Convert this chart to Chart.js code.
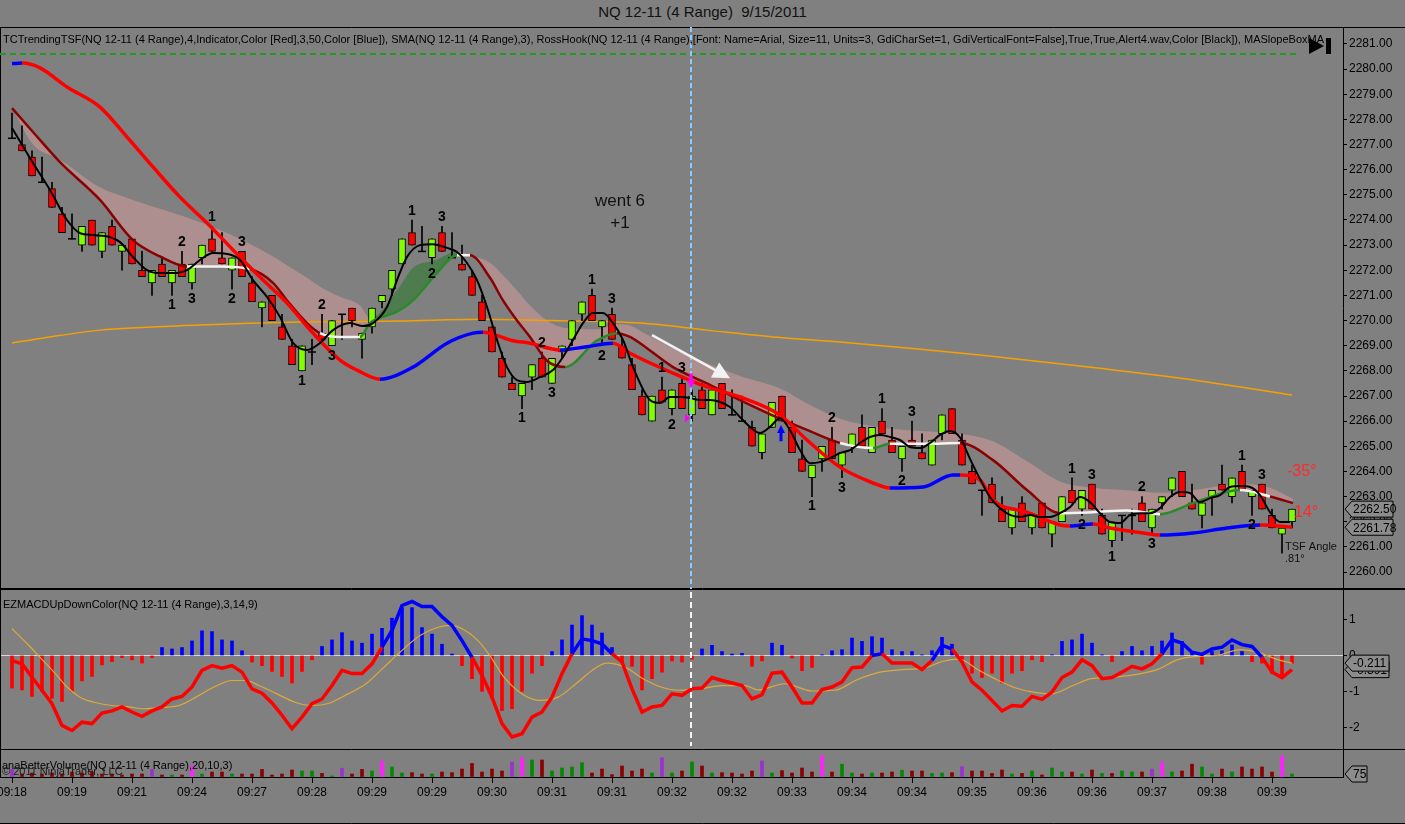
<!DOCTYPE html>
<html>
<head>
<meta charset="utf-8">
<title>NQ 12-11 (4 Range) 9/15/2011</title>
<script src="https://cdn.jsdelivr.net/npm/chart.js@4.4.1/dist/chart.umd.min.js"></script>
<style>
  html, body { margin: 0; padding: 0; background: #808080; overflow: hidden; }
  #wrap { position: relative; width: 1405px; height: 824px; }
  #title { position: absolute; left: 0; top: 3px; width: 1405px; text-align: center;
           font: 15px "Liberation Sans", Arial, sans-serif; color: #111; }
  canvas { position: absolute; left: 0; }
</style>
</head>
<body>
<div id="wrap">
  <div id="title">NQ 12-11 (4 Range)&nbsp; 9/15/2011</div>
  <canvas id="priceChart" width="1405" height="562" style="top:27px"></canvas>
  <canvas id="macdChart" width="1405" height="160" style="top:589px"></canvas>
  <canvas id="volChart" width="1405" height="75" style="top:749px"></canvas>
</div>
<script>
const FONT = '"Liberation Sans", Arial, sans-serif';
Chart.defaults.font.family = FONT;

// ---------- data ----------
const timeLabels = ['09:18', '09:19', '09:21', '09:24', '09:27', '09:28', '09:29', '09:29', '09:30', '09:31', '09:31',
  '09:32', '09:32', '09:33', '09:34', '09:34', '09:35', '09:36', '09:36', '09:37', '09:38', '09:39'];
const timeTickBars = [0, 6, 12, 18, 24, 30, 36, 42, 48, 54, 60, 66, 72, 78, 84, 90, 96, 102, 108, 114, 120, 126];

const opens = [
  2277.25, 2277.0, 2276.5, 2275.5, 2275.25, 2274.25, 2273.25, 2273.0, 2274.0, 2272.75,
  2273.75, 2272.75, 2273.25, 2272.0, 2271.5, 2272.25, 2271.5, 2272.25, 2271.5, 2272.5,
  2273.25, 2272.5, 2272.0, 2272.75, 2271.5, 2270.5, 2271.0, 2269.75, 2269.0, 2268.0,
  2268.75, 2269.5, 2269.0, 2270.25, 2270.5, 2269.25, 2269.75, 2270.75, 2271.25, 2272.25,
  2273.5, 2272.75, 2272.5, 2273.5, 2272.5, 2272.25, 2271.75, 2270.75, 2269.75, 2268.5,
  2267.5, 2267.0, 2267.75, 2268.5, 2267.5, 2268.75, 2269.25, 2270.25, 2271.0, 2269.75,
  2270.25, 2269.0, 2268.25, 2267.0, 2266.0, 2267.25, 2266.5, 2267.5, 2266.25, 2267.25,
  2266.25, 2267.5, 2266.25, 2266.0, 2265.75, 2264.75, 2265.75, 2267.0, 2265.75, 2264.5,
  2263.75, 2264.5, 2265.25, 2264.25, 2265.0, 2265.75, 2264.75, 2266.0, 2265.25, 2264.5,
  2265.25, 2264.75, 2264.25, 2265.5, 2266.5, 2265.25, 2264.0, 2263.25, 2263.5, 2262.5,
  2261.75, 2262.75, 2261.75, 2262.75, 2261.5, 2262.0, 2263.25, 2262.5, 2263.5, 2262.25,
  2261.25, 2262.25, 2262.25, 2262.75, 2261.75, 2262.75, 2263.25, 2264.0, 2262.75, 2262.25,
  2263.0, 2263.5, 2263.0, 2264.0, 2263.0, 2263.5, 2262.25, 2261.5, 2262.0];
const highs = [
  2278.25, 2277.75, 2276.75, 2276.5, 2275.5, 2274.5, 2274.25, 2273.75, 2274.0, 2273.5,
  2274.0, 2273.0, 2273.25, 2272.75, 2272.0, 2272.5, 2272.0, 2272.75, 2272.25, 2273.0,
  2273.75, 2273.5, 2272.5, 2272.75, 2271.75, 2270.75, 2271.0, 2270.25, 2269.25, 2269.0,
  2269.25, 2270.25, 2270.0, 2270.25, 2270.5, 2269.5, 2270.5, 2271.0, 2272.0, 2273.25,
  2274.0, 2273.75, 2273.25, 2273.75, 2273.5, 2273.0, 2272.0, 2271.0, 2269.75, 2268.75,
  2267.75, 2267.5, 2268.25, 2268.75, 2268.5, 2269.0, 2270.0, 2270.75, 2271.25, 2270.0,
  2270.5, 2269.25, 2268.5, 2267.25, 2267.0, 2267.75, 2267.25, 2267.75, 2267.25, 2267.5,
  2267.25, 2267.5, 2267.25, 2267.0, 2266.0, 2265.5, 2266.75, 2267.0, 2266.0, 2265.25,
  2264.25, 2265.0, 2265.75, 2264.75, 2265.5, 2266.25, 2265.75, 2266.5, 2265.75, 2265.0,
  2266.0, 2265.5, 2265.25, 2266.25, 2266.5, 2265.5, 2264.25, 2263.25, 2263.75, 2263.0,
  2262.5, 2263.0, 2262.25, 2262.75, 2262.0, 2263.0, 2263.75, 2263.25, 2263.5, 2262.5,
  2262.0, 2262.25, 2262.5, 2263.0, 2262.5, 2263.0, 2263.75, 2264.0, 2263.5, 2262.75,
  2263.25, 2264.25, 2263.75, 2264.25, 2263.25, 2263.5, 2262.5, 2261.75, 2262.5];
const lows = [
  2277.25, 2276.75, 2275.75, 2275.5, 2274.5, 2273.5, 2273.25, 2272.75, 2273.0, 2272.5,
  2273.0, 2272.0, 2272.25, 2271.75, 2271.0, 2271.75, 2271.0, 2271.75, 2271.25, 2272.25,
  2272.75, 2272.25, 2271.25, 2271.75, 2270.75, 2269.75, 2270.0, 2269.25, 2268.25, 2268.0,
  2268.25, 2269.25, 2269.0, 2269.25, 2269.75, 2268.5, 2269.5, 2270.5, 2271.0, 2272.25,
  2273.0, 2272.75, 2272.25, 2272.75, 2272.5, 2272.0, 2271.0, 2270.0, 2268.75, 2267.75,
  2267.25, 2266.5, 2267.25, 2267.75, 2267.5, 2268.5, 2269.0, 2270.0, 2270.0, 2269.0,
  2269.25, 2268.5, 2267.25, 2266.25, 2266.0, 2266.75, 2266.25, 2266.5, 2266.0, 2266.5,
  2266.25, 2266.5, 2266.25, 2266.0, 2265.0, 2264.5, 2265.75, 2266.0, 2264.75, 2264.0,
  2263.0, 2264.0, 2264.5, 2263.75, 2264.75, 2265.0, 2264.75, 2265.5, 2264.75, 2264.0,
  2265.0, 2264.5, 2264.25, 2265.25, 2265.5, 2264.25, 2263.5, 2262.25, 2262.75, 2262.0,
  2261.5, 2262.0, 2261.5, 2261.75, 2261.0, 2262.0, 2262.75, 2262.25, 2262.5, 2261.5,
  2261.0, 2261.25, 2261.5, 2262.0, 2261.5, 2262.5, 2263.0, 2263.0, 2262.5, 2261.75,
  2262.25, 2263.25, 2262.75, 2263.25, 2262.25, 2262.5, 2261.75, 2260.75, 2261.75];
const closes = [
  2277.25, 2276.75, 2275.75, 2275.5, 2274.5, 2273.5, 2273.25, 2273.75, 2273.0, 2273.5,
  2273.0, 2273.0, 2272.25, 2271.75, 2272.0, 2271.75, 2272.0, 2271.75, 2272.25, 2273.0,
  2272.75, 2272.25, 2272.5, 2271.75, 2270.75, 2270.75, 2270.0, 2269.25, 2268.25, 2269.0,
  2268.75, 2269.25, 2270.0, 2270.25, 2270.0, 2269.5, 2270.5, 2271.0, 2272.0, 2273.25,
  2273.0, 2272.75, 2273.25, 2272.75, 2272.5, 2272.0, 2271.0, 2270.0, 2268.75, 2267.75,
  2267.25, 2267.5, 2268.25, 2267.75, 2268.5, 2269.0, 2270.0, 2270.75, 2270.0, 2270.0,
  2269.25, 2268.5, 2267.25, 2266.25, 2267.0, 2266.75, 2267.25, 2266.5, 2267.0, 2266.5,
  2267.25, 2266.5, 2266.25, 2266.0, 2265.0, 2265.5, 2266.75, 2266.0, 2264.75, 2264.0,
  2264.25, 2265.0, 2264.5, 2264.75, 2265.5, 2265.0, 2265.75, 2265.5, 2264.75, 2265.0,
  2265.0, 2264.5, 2265.25, 2266.25, 2265.5, 2264.25, 2263.5, 2263.25, 2262.75, 2262.0,
  2262.5, 2262.0, 2262.25, 2261.75, 2262.0, 2263.0, 2262.75, 2263.25, 2262.5, 2261.5,
  2262.0, 2262.25, 2262.25, 2262.0, 2262.5, 2263.0, 2263.75, 2263.0, 2262.5, 2262.75,
  2263.25, 2263.25, 2263.75, 2263.25, 2263.25, 2262.5, 2261.75, 2261.75, 2262.5];

// RossHook swing labels: bar, text, H = above the high / L = below the low
const hookBars = [16, 17, 18, 20, 22, 23, 29, 31, 32, 40, 42, 43, 51, 53, 54, 58, 59, 60,
  65, 66, 67, 80, 82, 83, 87, 89, 90, 106, 107, 108, 110, 113, 114, 123, 124, 125];
const hookText = ['1', '2', '3', '1', '2', '3', '1', '2', '3', '1', '2', '3', '1', '2', '3', '1', '2', '3',
  '1', '2', '3', '1', '2', '3', '1', '2', '3', '1', '2', '3', '1', '2', '3', '1', '2', '3'];
const hookSide = ['L', 'H', 'L', 'H', 'L', 'H', 'L', 'H', 'L', 'H', 'L', 'H', 'L', 'H', 'L', 'H', 'L', 'H',
  'H', 'L', 'H', 'L', 'H', 'L', 'H', 'L', 'H', 'H', 'L', 'H', 'L', 'H', 'L', 'H', 'L', 'H'];

// TCTrendingTSF line
const tsfBars = [0, 1, 2.8, 5.5, 8.8, 11.5, 14.1, 16.8, 19.5, 22.1, 24.8, 27.5, 30.1, 32.8, 34.5, 36.8,
  40.1, 43.5, 46.1, 47.1, 50.1, 51.8, 54.8, 57.3, 60.1, 61.8, 66.1, 69.5, 72.8, 76.8, 79.5, 82.8,
  86.1, 87.8, 91.1, 94.1, 94.8, 96.8, 98.1, 101.5, 104.8, 105.8, 108.1, 109.8, 113.1, 114.8, 118.1,
  121.5, 124.8, 128];
const tsfVals = [2280.22, 2280.24, 2280.05, 2279.29, 2278.49, 2277.30, 2276.11, 2274.91, 2273.88, 2272.81,
  2271.73, 2270.70, 2269.50, 2268.43, 2268.03, 2267.67, 2268.15, 2269.10, 2269.50, 2269.54,
  2269.20, 2269.10, 2268.83, 2268.95, 2269.10, 2268.70, 2267.91, 2267.36, 2266.96, 2266.24,
  2265.25, 2264.17, 2263.54, 2263.34, 2263.38, 2263.86, 2263.86, 2263.66, 2262.86, 2262.38,
  2261.87, 2261.83, 2261.91, 2261.75, 2261.55, 2261.47, 2261.55, 2261.75, 2261.87, 2261.78];

// MA slope box: the coloured MA line and the other edge of the shaded box
const bandBars = [0, 2.1, 4.8, 8.8, 12.1, 14.8, 17.5, 20.8, 23.8, 26.1, 27.5, 29.5, 30.8, 32.8, 34.8, 35.8,
  38.5, 40.1, 42.3, 44.5, 45.8, 47.8, 49.1, 50.5, 51.8, 53.5, 55.3, 58.5, 60.5, 61.8, 62.8, 66.1,
  69.5, 72.8, 76.8, 79.5, 82.8, 86.1, 87.8, 91.3, 94.8, 98.1, 101.5, 104.8, 108.1, 111.5, 114.8,
  118.1, 122.8, 125.8, 128.1];
const maVals = [2278.45, 2277.5, 2276.3, 2274.8, 2273.2, 2272.55, 2272.15, 2272.15, 2272.05, 2271.5,
  2270.8, 2269.9, 2269.5, 2269.35, 2269.35, 2269.9, 2270.35, 2270.8, 2271.8, 2272.6,
  2272.6, 2271.7, 2270.8, 2270.0, 2269.35, 2268.4, 2268.15, 2269.2, 2269.5, 2269.35,
  2269.1, 2268.15, 2267.5, 2266.84, 2266.1, 2265.65, 2265.13, 2264.93, 2265.1, 2265.1,
  2265.13, 2264.45, 2263.26, 2262.34, 2262.38, 2262.45, 2262.3, 2262.74, 2263.26, 2263.0,
  2262.74];
const bandTopVals = [2278.45, 2277.0, 2276.4, 2275.3, 2274.8, 2274.45, 2274.1, 2273.6, 2273.05, 2272.55,
  2272.2, 2271.7, 2271.35, 2270.95, 2270.6, 2270.1, 2271.2, 2272.1, 2272.4, 2272.75,
  2272.6, 2272.3, 2271.8, 2271.2, 2270.6, 2270.0, 2269.7, 2269.65, 2269.85, 2269.8,
  2269.6, 2268.9, 2268.3, 2267.8, 2267.3, 2266.7, 2266.1, 2265.8, 2265.7, 2265.6,
  2265.5, 2265.2, 2264.4, 2263.6, 2263.35, 2263.25, 2263.15, 2263.25, 2263.5, 2263.35,
  2262.9];

// SMA(3) line
const smaBars = [0, 2.1, 3.8, 5.5, 6.8, 8.1, 9.8, 10.8, 12.1, 13.5, 14.8, 16.1, 17.5, 18.8, 20.1, 21.5,
  22.8, 24.1, 25.5, 26.8, 28.1, 29.5, 30.8, 32.1, 33.8, 35.1, 36.1, 37.5, 38.5, 39.5, 40.8, 42.1,
  43.5, 44.5, 45.5, 46.5, 47.5, 48.5, 49.5, 50.5, 51.5, 52.8, 54.1, 55.1, 56.1, 57.1, 58.1, 59.1,
  60.1, 61.1, 62.1, 63.8, 64.8, 65.8, 66.8, 67.8, 68.8, 69.8, 70.8, 71.8, 72.8, 73.8, 74.8, 75.8,
  76.8, 77.8, 78.8, 79.8, 80.8, 81.8, 82.8, 83.8, 84.8, 85.8, 86.8, 87.8, 88.8, 89.8, 90.8, 91.8,
  92.8, 93.8, 94.8, 95.8, 96.8, 97.8, 98.8, 99.8, 100.8, 101.8, 102.8, 103.8, 104.8, 105.8, 106.8,
  107.8, 108.8, 109.8, 110.8, 111.8, 112.8, 113.8, 114.8, 115.8, 116.8, 117.8, 118.8, 119.8,
  120.8, 121.8, 122.8, 123.8, 124.8, 125.8, 126.8, 127.8];
const smaVals = [2277.66, 2276.27, 2275.19, 2274.0, 2273.48, 2273.4, 2273.32, 2273.12, 2272.53, 2272.01,
  2271.89, 2271.89, 2272.01, 2272.41, 2272.69, 2272.65, 2272.41, 2271.61, 2270.94, 2270.14,
  2269.11, 2268.83, 2269.11, 2269.62, 2269.9, 2269.78, 2269.9, 2270.54, 2271.61, 2272.53,
  2273.0, 2273.04, 2272.89, 2272.73, 2272.29, 2271.61, 2270.54, 2269.23, 2268.15, 2267.63,
  2267.56, 2267.75, 2268.03, 2268.55, 2269.23, 2269.9, 2270.3, 2270.3, 2269.9, 2269.23,
  2268.15, 2266.84, 2266.72, 2266.96, 2266.96, 2266.92, 2266.84, 2266.84, 2266.76, 2266.56,
  2266.16, 2265.77, 2265.53, 2265.77, 2266.12, 2265.65, 2264.85, 2264.33, 2264.37, 2264.53,
  2264.73, 2264.85, 2265.13, 2265.37, 2265.45, 2265.37, 2265.25, 2264.97, 2264.93, 2265.13,
  2265.45, 2265.61, 2265.35, 2264.5, 2263.7, 2262.98, 2262.54, 2262.27, 2262.19, 2262.27,
  2262.19, 2262.19, 2262.34, 2262.58, 2262.98, 2262.78, 2262.34, 2261.99, 2261.95, 2262.27,
  2262.34, 2262.34, 2262.54, 2262.98, 2263.18, 2263.14, 2262.78, 2262.94, 2263.06, 2263.38,
  2263.42, 2263.38, 2263.06, 2262.38, 2261.99, 2261.99];

// slow orange average
const slowBars = [0, 3, 8.8, 18.8, 28.8, 38.8, 46.8, 53.8, 62.8, 69.5, 76.1, 82.8, 89.5, 96.8, 108.8, 118.8, 128];
const slowVals = [2269.11, 2269.30, 2269.62, 2269.82, 2269.94, 2269.98, 2270.05, 2270.00, 2269.90,
  2269.62, 2269.35, 2269.15, 2268.91, 2268.63, 2268.10, 2267.60, 2267.04];

// EZMACDUpDownColor
const macdVals = [
  -0.14, -0.23, -0.60, -0.96, -1.33, -1.93, -2.07, -1.84, -1.88, -1.59,
  -1.53, -1.42, -1.56, -1.68, -1.53, -1.42, -1.20, -1.13, -0.87, -0.41,
  -0.28, -0.35, -0.28, -0.46, -0.92, -1.04, -1.31, -1.65, -2.02, -1.70,
  -1.33, -1.20, -0.83, -0.41, -0.50, -0.50, -0.23, 0.23, 0.69, 1.38,
  1.49, 1.35, 1.35, 1.07, 0.83, 0.41, -0.05, -0.55, -1.15, -1.88,
  -2.25, -2.16, -1.70, -1.56, -1.15, -0.50, 0.05, 0.46, 0.41, 0.32,
  0.05, -0.18, -0.92, -1.56, -1.42, -1.38, -1.06, -1.10, -0.92, -0.90,
  -0.61, -0.69, -0.76, -0.83, -1.20, -1.08, -0.49, -0.46, -0.87, -1.31,
  -1.31, -0.94, -0.87, -0.73, -0.34, -0.32, 0.00, 0.05, -0.21, -0.21,
  -0.21, -0.39, -0.14, 0.28, 0.18, -0.18, -0.73, -0.96, -1.24, -1.53,
  -1.38, -1.40, -1.13, -1.21, -1.01, -0.61, -0.46, -0.12, -0.28, -0.64,
  -0.61, -0.46, -0.30, -0.37, -0.23, 0.05, 0.43, 0.34, 0.09, 0.03,
  0.18, 0.23, 0.43, 0.30, 0.25, -0.05, -0.46, -0.61, -0.391];
const histVals = [
  -0.90, -0.95, -1.13, -0.99, -1.18, -1.27, -0.99, -0.70, -0.58, -0.26,
  -0.17, -0.06, -0.12, -0.21, -0.06, 0.22, 0.18, 0.22, 0.40, 0.68,
  0.66, 0.43, 0.40, 0.13, -0.18, -0.28, -0.44, -0.58, -0.76, -0.44,
  -0.12, 0.25, 0.43, 0.63, 0.40, 0.34, 0.59, 0.75, 1.03, 1.32,
  1.32, 0.77, 0.59, 0.31, 0.04, -0.28, -0.64, -0.99, -1.18, -1.52,
  -1.47, -0.99, -0.49, -0.28, 0.11, 0.43, 0.84, 1.10, 0.84, 0.62,
  0.22, -0.17, -0.30, -0.95, -0.64, -0.46, -0.15, -0.18, -0.10, 0.18,
  0.28, 0.11, 0.04, 0.06, -0.30, -0.15, 0.34, 0.28, -0.07, -0.42,
  -0.33, 0.02, 0.13, 0.16, 0.48, 0.39, 0.52, 0.48, 0.16, 0.11,
  0.11, 0.02, 0.13, 0.50, 0.31, -0.17, -0.49, -0.61, -0.49, -0.76,
  -0.49, -0.42, -0.12, -0.17, 0.02, 0.39, 0.43, 0.59, 0.34, 0.02,
  -0.17, 0.11, 0.25, 0.13, 0.25, 0.40, 0.62, 0.39, 0.09, -0.24,
  0.11, 0.13, 0.29, 0.11, -0.17, -0.21, -0.49, -0.53, -0.211];
const signalBars = [0, 1.5, 2.8, 4.2, 5.5, 6.8, 8.2, 10, 11.7, 13.1, 14.9, 16.7, 18.4, 20.2, 22, 23.4,
  24.7, 26.5, 28.3, 30, 31.8, 33.6, 35.4, 37.2, 39, 40.8, 42.6, 43.9, 45.2, 46.6, 47.9, 49.2, 51,
  52.8, 54.6, 56.4, 58.2, 59.5, 61.3, 63.1, 64.9, 66.7, 68.8, 71, 73.3, 74.6, 77.3, 80, 82.3, 84.5,
  86.8, 89, 91.3, 93.1, 94.7, 96.7, 98.5, 100.3, 102.1, 103.9, 106.1, 107.9, 110.2, 112.9, 114.7,
  116.5, 118.3, 120.5, 122.8, 124.6, 126.4, 128];
const signalVals = [0.74, 0.33, -0.05, -0.46, -0.87, -1.15, -1.29, -1.38, -1.42, -1.47,
  -1.44, -1.38, -1.15, -0.87, -0.69, -0.69, -0.83, -1.06, -1.29, -1.38,
  -1.31, -1.06, -0.78, -0.32, 0.14, 0.55, 0.78, 0.83, 0.71, 0.41,
  -0.05, -0.60, -1.06, -1.24, -1.15, -0.78, -0.37, -0.21, -0.32, -0.64,
  -0.87, -0.96, -0.92, -0.83, -0.83, -0.95, -0.78, -0.98, -0.96, -0.67,
  -0.46, -0.39, -0.34, -0.16, -0.10, -0.41, -0.67, -0.89, -1.01, -1.06,
  -0.83, -0.64, -0.60, -0.50, -0.37, -0.12, -0.03, 0.00, 0.16, 0.09,
  -0.10, -0.21];

// anaBetterVolume: volume and bar class (r down, g up, p climax, m high churn)
const volumes = [
  190, 75, 100, 75, 100, 75, 125, 100, 125, 75,
  75, 50, 75, 75, 190, 50, 50, 50, 275, 75,
  125, 125, 75, 75, 75, 190, 50, 75, 175, 150,
  150, 90, 25, 220, 75, 190, 150, 400, 250, 100,
  110, 75, 75, 125, 110, 200, 340, 125, 200, 150,
  375, 480, 425, 425, 150, 225, 250, 360, 100, 200,
  60, 275, 150, 200, 100, 480, 100, 150, 375, 275,
  100, 110, 100, 75, 150, 400, 100, 160, 100, 225,
  125, 540, 125, 320, 100, 75, 100, 100, 125, 170,
  150, 150, 90, 100, 110, 260, 150, 150, 90, 175,
  75, 90, 150, 50, 225, 125, 125, 75, 175, 90,
  90, 150, 125, 125, 200, 380, 125, 150, 320, 250,
  75, 200, 125, 250, 200, 250, 125, 525, 75];
const volumeKinds = [
  'p', 'r', 'r', 'r', 'r', 'r', 'r', 'r', 'r', 'r',
  'r', 'r', 'r', 'r', 'p', 'r', 'g', 'r', 'm', 'g',
  'r', 'r', 'g', 'r', 'r', 'r', 'r', 'r', 'r', 'g',
  'g', 'r', 'g', 'p', 'r', 'r', 'g', 'm', 'g', 'g',
  'r', 'r', 'g', 'r', 'r', 'r', 'r', 'r', 'r', 'r',
  'p', 'm', 'g', 'r', 'g', 'g', 'g', 'g', 'r', 'r',
  'r', 'r', 'r', 'r', 'g', 'p', 'g', 'r', 'g', 'r',
  'g', 'r', 'r', 'r', 'r', 'p', 'g', 'r', 'r', 'r',
  'r', 'm', 'r', 'g', 'g', 'r', 'g', 'r', 'r', 'g',
  'r', 'r', 'g', 'g', 'r', 'p', 'r', 'r', 'r', 'r',
  'g', 'r', 'g', 'r', 'g', 'g', 'r', 'g', 'r', 'g',
  'r', 'g', 'g', 'r', 'p', 'm', 'g', 'r', 'r', 'g',
  'g', 'r', 'g', 'r', 'r', 'r', 'r', 'm', 'g'];

const priceTitle = 'TCTrendingTSF(NQ 12-11 (4 Range),4,Indicator,Color [Red],3,50,Color [Blue]), SMA(NQ 12-11 (4 Range),3), RossHook(NQ 12-11 (4 Range),[Font: Name=Arial, Size=11, Units=3, GdiCharSet=1, GdiVerticalFont=False],True,True,Alert4.wav,Color [Black]), MASlopeBoxMA';
const macdTitle = 'EZMACDUpDownColor(NQ 12-11 (4 Range),3,14,9)';
const volTitle = 'anaBetterVolume(NQ 12-11 (4 Range),20,10,3)';

// ---------- helpers ----------
const X_MIN = -1.2, X_MAX = 133.1;
const PINK = 'rgba(255,170,170,0.36)';
const GREEN_BOX = 'rgba(30,120,30,0.5)';
const VOL_COLORS = { r: '#8b0000', g: '#008a00', p: '#9b30d0', m: '#ff22ff' };
const barIdx = closes.map((_, i) => i);
const pts = (xs, ys) => xs.map((x, i) => ({ x: x, y: ys[i] }));
const slope = c => (c.p1.parsed.y - c.p0.parsed.y) / (c.p1.parsed.x - c.p0.parsed.x);

function rightAxis(min, max, showLabels, fmt) {
  return {
    position: 'right', min: min, max: max,
    afterFit(s) { s.width = 62; s.paddingTop = 0; s.paddingBottom = 0; },
    ticks: { display: showLabels, stepSize: 1, includeBounds: false, color: '#000',
      font: { size: 12 }, padding: 2, callback: fmt },
    grid: { drawOnChartArea: false, drawTicks: showLabels, tickLength: 4, color: '#000' },
    border: { color: '#000' }
  };
}
const hiddenX = { type: 'linear', min: X_MIN, max: X_MAX, display: false, offset: false };
const baseOptions = {
  responsive: false, animation: false, events: [],
  layout: { padding: 0, autoPadding: false },
  plugins: { legend: { display: false }, tooltip: { enabled: false } }
};

function axisTag(ctx, left, yc, text, w) {
  ctx.beginPath();
  ctx.moveTo(left, yc);
  ctx.lineTo(left + 7, yc - 8);
  ctx.lineTo(left + w, yc - 8);
  ctx.lineTo(left + w, yc + 8);
  ctx.lineTo(left + 7, yc + 8);
  ctx.closePath();
  ctx.fillStyle = '#8c8c8c';
  ctx.fill();
  ctx.strokeStyle = '#000';
  ctx.lineWidth = 1;
  ctx.stroke();
  ctx.fillStyle = '#000';
  ctx.font = '12px ' + FONT;
  ctx.textAlign = 'left';
  ctx.textBaseline = 'middle';
  ctx.fillText(text, left + 8, yc + 1);
}

function frame(drawBottom) {
  return {
    id: 'frame',
    afterDatasetsDraw(chart) {
      const { ctx, chartArea: a, width } = chart;
      ctx.save();
      ctx.strokeStyle = '#000';
      ctx.lineWidth = 1;
      ctx.beginPath();
      ctx.moveTo(0, 0.5); ctx.lineTo(width, 0.5);
      ctx.moveTo(0.5, 0); ctx.lineTo(0.5, a.bottom);
      if (drawBottom) { ctx.moveTo(0, a.bottom - 0.5); ctx.lineTo(width, a.bottom - 0.5); }
      ctx.stroke();
      ctx.restore();
    }
  };
}

function arrow(ctx, x0, y0, x1, y1, head, color, lw) {
  const ang = Math.atan2(y1 - y0, x1 - x0);
  ctx.strokeStyle = color; ctx.fillStyle = color; ctx.lineWidth = lw;
  ctx.beginPath();
  ctx.moveTo(x0, y0);
  ctx.lineTo(x1 - Math.cos(ang) * head * 0.8, y1 - Math.sin(ang) * head * 0.8);
  ctx.stroke();
  ctx.beginPath();
  ctx.moveTo(x1, y1);
  ctx.lineTo(x1 - head * Math.cos(ang) + head * 0.5 * Math.sin(ang), y1 - head * Math.sin(ang) - head * 0.5 * Math.cos(ang));
  ctx.lineTo(x1 - head * Math.cos(ang) - head * 0.5 * Math.sin(ang), y1 - head * Math.sin(ang) + head * 0.5 * Math.cos(ang));
  ctx.closePath();
  ctx.fill();
}

// ---------- price panel ----------
const priceNotes = {
  id: 'priceNotes',
  afterDatasetsDraw(chart) {
    const { ctx, chartArea: a, scales: { x, y } } = chart;
    const px = b => x.getPixelForValue(b);
    const py = p => y.getPixelForValue(p);
    ctx.save();
    ctx.beginPath();
    ctx.rect(a.left, a.top, a.right - a.left, a.bottom - a.top);
    ctx.clip();

    ctx.lineWidth = 2;
    ctx.strokeStyle = '#1f9a1f';
    ctx.setLineDash([6, 4]);
    ctx.beginPath();
    ctx.moveTo(a.left, py(2280.6)); ctx.lineTo(px(128.8), py(2280.6));
    ctx.stroke();

    ctx.strokeStyle = '#8fcaff';
    ctx.setLineDash([5, 3]);
    ctx.beginPath();
    ctx.moveTo(px(67.9), a.top); ctx.lineTo(px(67.9), a.bottom);
    ctx.stroke();
    ctx.setLineDash([]);

    ctx.font = 'bold 14px ' + FONT;
    ctx.fillStyle = '#000';
    ctx.textAlign = 'center';
    hookBars.forEach((b, k) => {
      if (hookSide[k] === 'H') {
        ctx.textBaseline = 'bottom';
        ctx.fillText(hookText[k], px(b), py(highs[b]) - 2);
      } else {
        ctx.textBaseline = 'top';
        ctx.fillText(hookText[k], px(b), py(lows[b]) + 3);
      }
    });

    ctx.font = '17px ' + FONT;
    ctx.fillStyle = '#111';
    ctx.textBaseline = 'middle';
    ctx.fillText('went 6', px(60.8), py(2274.75));
    ctx.fillText('+1', px(60.8), py(2273.88));

    arrow(ctx, px(64.0), py(2269.42), px(71.8), py(2267.71), 17, '#f2f2f2', 2.5);
    arrow(ctx, px(67.9), py(2267.9), px(67.9), py(2267.3), 8, '#ff00ff', 3);
    arrow(ctx, px(76.9), py(2265.2), px(76.9), py(2265.85), 8, '#0000ff', 3);
    ctx.fillStyle = '#ff00ff';
    ctx.beginPath();
    ctx.moveTo(px(67.3), py(2266.28)); ctx.lineTo(px(67.3), py(2265.96)); ctx.lineTo(px(67.8), py(2266.12));
    ctx.closePath(); ctx.fill();

    ctx.fillStyle = '#ff2a2a';
    ctx.font = '16px ' + FONT;
    ctx.textAlign = 'left';
    ctx.fillText('-35°', px(127.5), py(2263.98));
    ctx.fillText('14°', px(128.2), py(2262.35));
    ctx.fillStyle = '#111';
    ctx.font = '11px ' + FONT;
    ctx.fillText('TSF Angle', px(127.3), py(2260.99));
    ctx.fillText('.81°', px(127.3), py(2260.52));
    ctx.restore();

    ctx.save();
    ctx.beginPath();
    ctx.rect(a.left, a.top, 1334, 30);
    ctx.clip();
    ctx.fillStyle = '#000';
    ctx.font = '11px ' + FONT;
    ctx.textAlign = 'left';
    ctx.textBaseline = 'middle';
    ctx.fillText(priceTitle, 3, 13);
    ctx.restore();

    ctx.save();
    ctx.fillStyle = '#000';
    ctx.beginPath();
    ctx.moveTo(1309, 11); ctx.lineTo(1309, 27); ctx.lineTo(1324, 19); ctx.closePath();
    ctx.fill();
    ctx.fillRect(1326, 11, 5, 16);
    axisTag(ctx, a.right + 2, py(tsfVals[tsfVals.length - 1]), tsfVals[tsfVals.length - 1].toFixed(2), 48);
    axisTag(ctx, a.right + 2, py(closes[closes.length - 1]), closes[closes.length - 1].toFixed(2), 48);
    ctx.restore();
  }
};

new Chart(document.getElementById('priceChart'), {
  type: 'bar',
  data: {
    datasets: [
      { type: 'line', data: pts(bandBars, bandTopVals), borderWidth: 0, borderColor: 'rgba(0,0,0,0)',
        pointRadius: 0, cubicInterpolationMode: 'monotone', order: 20,
        fill: { target: 1, above: PINK, below: PINK },
        segment: { backgroundColor: c => (slope(c) > 0.12 ? GREEN_BOX : PINK) } },
      { type: 'line', data: pts(bandBars, maVals), borderWidth: 2.5, borderColor: '#8b0000', pointRadius: 0,
        cubicInterpolationMode: 'monotone', order: 5,
        segment: { borderColor: c => { const s = slope(c); return s < -0.1 ? '#8b0000' : (s > 0.06 ? '#2a8a2a' : '#f4f4f4'); } } },
      { type: 'line', data: pts(slowBars, slowVals), borderColor: '#f5a000', borderWidth: 1.5, pointRadius: 0,
        cubicInterpolationMode: 'monotone', order: 15 },
      { type: 'line', data: pts(tsfBars, tsfVals), borderWidth: 3.5, borderColor: '#ff0000', pointRadius: 0,
        cubicInterpolationMode: 'monotone', order: 4,
        segment: { borderColor: c => (slope(c) >= 0 ? '#0000ff' : '#ff0000') } },
      { type: 'line', data: pts(smaBars, smaVals), borderColor: '#000', borderWidth: 2, pointRadius: 0,
        cubicInterpolationMode: 'monotone', order: 3 },
      { type: 'bar', data: barIdx.map(i => ({ x: i, y: [lows[i], highs[i]] })), backgroundColor: '#000',
        barThickness: 1, grouped: false, order: 12 },
      { type: 'bar', data: barIdx.map(i => ({ x: i, y: [opens[i], closes[i]] })),
        backgroundColor: barIdx.map(i => (closes[i] >= opens[i] ? '#80ff00' : '#ff0000')),
        borderColor: '#000', borderWidth: 1, borderSkipped: false, barThickness: 7, grouped: false, order: 11 },
      { type: 'line', data: barIdx.filter(i => opens[i] === closes[i]).map(i => ({ x: i, y: closes[i] })),
        showLine: false, pointStyle: 'line', pointRadius: 4, pointBorderColor: '#000', pointBorderWidth: 1.5, order: 10 }
    ]
  },
  options: Object.assign({}, baseOptions, {
    scales: {
      x: hiddenX,
      y: rightAxis(2259.324, 2281.676, true, v => v.toFixed(2))
    }
  }),
  plugins: [frame(true), priceNotes]
});

// ---------- MACD panel ----------
const macdNotes = {
  id: 'macdNotes',
  beforeDatasetsDraw(chart) {
    const { ctx, chartArea: a, scales: { y } } = chart;
    ctx.save();
    ctx.strokeStyle = '#d8d8d8';
    ctx.lineWidth = 1;
    ctx.beginPath();
    ctx.moveTo(a.left, Math.round(y.getPixelForValue(0)) + 0.5);
    ctx.lineTo(a.right, Math.round(y.getPixelForValue(0)) + 0.5);
    ctx.stroke();
    ctx.restore();
  },
  afterDatasetsDraw(chart) {
    const { ctx, chartArea: a, scales: { x, y } } = chart;
    ctx.save();
    ctx.strokeStyle = '#f4f4f4';
    ctx.lineWidth = 2;
    ctx.setLineDash([6, 4]);
    ctx.beginPath();
    ctx.moveTo(x.getPixelForValue(67.9), a.top + 3);
    ctx.lineTo(x.getPixelForValue(67.9), a.bottom - 3);
    ctx.stroke();
    ctx.setLineDash([]);
    ctx.fillStyle = '#000';
    ctx.font = '11px ' + FONT;
    ctx.textAlign = 'left';
    ctx.textBaseline = 'middle';
    ctx.fillText(macdTitle, 3, 16);
    const m = macdVals[macdVals.length - 1], h = histVals[histVals.length - 1];
    axisTag(ctx, a.right + 2, y.getPixelForValue(m), m.toFixed(3), 44);
    axisTag(ctx, a.right + 2, y.getPixelForValue(h), h.toFixed(3), 44);
    ctx.restore();
  }
};

new Chart(document.getElementById('macdChart'), {
  type: 'bar',
  data: {
    datasets: [
      { type: 'bar', data: barIdx.map(i => ({ x: i, y: histVals[i] })),
        backgroundColor: histVals.map(v => (v >= 0 ? '#0000ff' : '#ff0000')),
        barThickness: 3, grouped: false, order: 5 },
      { type: 'line', data: pts(signalBars, signalVals), borderColor: '#e0a838', borderWidth: 1.2,
        pointRadius: 0, cubicInterpolationMode: 'monotone', order: 3 },
      { type: 'line', data: barIdx.map(i => ({ x: i, y: macdVals[i] })), borderWidth: 3.5,
        borderColor: '#ff0000', pointRadius: 0, tension: 0, order: 2,
        segment: { borderColor: c => (c.p0.parsed.y > -0.15 && c.p1.parsed.y > -0.15 ? '#0000ff' : '#ff0000') } }
    ]
  },
  options: Object.assign({}, baseOptions, {
    scales: {
      x: hiddenX,
      y: rightAxis(-2.581, 1.835, true, v => String(v))
    }
  }),
  plugins: [frame(false), macdNotes]
});

// ---------- volume panel with the time axis ----------
const volNotes = {
  id: 'volNotes',
  afterDatasetsDraw(chart) {
    const { ctx, chartArea: a, width, scales: { y } } = chart;
    ctx.save();
    ctx.fillStyle = '#000';
    ctx.font = '11px ' + FONT;
    ctx.textAlign = 'left';
    ctx.textBaseline = 'middle';
    ctx.fillText(volTitle, 2, 17);
    ctx.fillStyle = '#1a1a1a';
    ctx.fillText('© 2011 NinjaTrader, LLC', 2, 23);
    ctx.strokeStyle = '#000';
    ctx.lineWidth = 1;
    ctx.beginPath();
    ctx.moveTo(0, 74.5); ctx.lineTo(width, 74.5);
    ctx.stroke();
    const last = volumes[volumes.length - 1];
    axisTag(ctx, a.right + 2, y.getPixelForValue(last), String(last), 22);
    ctx.restore();
  }
};

new Chart(document.getElementById('volChart'), {
  type: 'bar',
  data: {
    datasets: [
      { type: 'bar', data: barIdx.map(i => ({ x: i, y: volumes[i] })),
        backgroundColor: volumeKinds.map(k => VOL_COLORS[k]), barThickness: 3 }
    ]
  },
  options: Object.assign({}, baseOptions, {
    scales: {
      x: {
        type: 'linear', min: X_MIN, max: X_MAX, offset: false,
        afterBuildTicks(s) { s.ticks = timeTickBars.map(v => ({ value: v })); },
        afterFit(s) { s.height = 47; s.paddingLeft = 0; s.paddingRight = 0; },
        ticks: { autoSkip: false, maxRotation: 0, minRotation: 0, color: '#000', font: { size: 12 }, padding: 2,
          callback: v => timeLabels[timeTickBars.indexOf(v)] },
        grid: { drawOnChartArea: false, tickLength: 6, color: '#000', offset: false },
        border: { color: '#000' }
      },
      y: {
        position: 'right', min: 0, max: 700,
        afterFit(s) { s.width = 62; s.paddingTop = 0; s.paddingBottom = 0; },
        ticks: { display: false },
        grid: { drawOnChartArea: false, drawTicks: false },
        border: { color: '#000' }
      }
    }
  }),
  plugins: [frame(false), volNotes]
});
</script>
</body>
</html>
